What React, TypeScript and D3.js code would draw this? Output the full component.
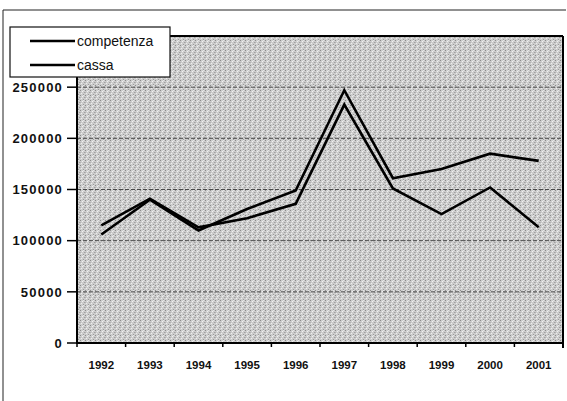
import React from "react";
import * as d3 from "d3";

const years = ["1992", "1993", "1994", "1995", "1996", "1997", "1998", "1999", "2000", "2001"];
const competenza = [106000, 140000, 110000, 131000, 149000, 247000, 161000, 170000, 185000, 178000];
const cassa = [115000, 141000, 113000, 122000, 136000, 233000, 151000, 126000, 152000, 113000];
const yTicks = [0, 50000, 100000, 150000, 200000, 250000];
const seriesNames = ["competenza", "cassa"];

const W = 567;
const H = 401;
const plot = { left: 77, right: 563, top: 36, bottom: 343 };

export default function App() {
  const x = d3.scaleBand<string>().domain(years).range([plot.left, plot.right]).padding(0);
  const y = d3.scaleLinear().domain([0, 300000]).range([plot.bottom, plot.top]);
  const cx = (d: string) => (x(d) as number) + x.bandwidth() / 2;
  const line = d3
    .line<number>()
    .x((_, i) => cx(years[i]))
    .y((v) => y(v));
  const font = "'Liberation Sans', Arial, sans-serif";
  const series = [competenza, cassa];

  return (
    <svg width={W} height={H} style={{ position: "absolute", left: 0, top: 0, background: "#fff" }}>
      <defs>
        <pattern id="stip" width={5} height={5} patternUnits="userSpaceOnUse">
          <rect width={5} height={5} fill="#cdcdcd" />
          <rect x={0} y={0} width={1} height={1} fill="#8c8c8c" />
          <rect x={2} y={1} width={1} height={1} fill="#f2f2f2" />
          <rect x={4} y={2} width={1} height={1} fill="#a0a0a0" />
          <rect x={1} y={3} width={1} height={1} fill="#eeeeee" />
          <rect x={3} y={4} width={1} height={1} fill="#9a9a9a" />
          <rect x={3} y={0} width={1} height={1} fill="#e6e6e6" />
          <rect x={0} y={2} width={1} height={1} fill="#b4b4b4" />
        </pattern>
      </defs>
      {/* outer chart border */}
      <line x1={3} y1={10} x2={566} y2={10} stroke="#222" strokeWidth={1} />
      <line x1={3} y1={10} x2={3} y2={401} stroke="#222" strokeWidth={1} />

      {/* plot area */}
      <rect
        x={plot.left}
        y={plot.top}
        width={plot.right - plot.left}
        height={plot.bottom - plot.top}
        fill="url(#stip)"
      />
      {/* gridlines */}
      {yTicks.filter((t) => t > 0).map((t) => (
        <line
          key={t}
          x1={plot.left}
          x2={plot.right}
          y1={y(t)}
          y2={y(t)}
          stroke="#4a4a4a"
          strokeWidth={1}
          strokeDasharray="4,2"
        />
      ))}
      {/* borders */}
      <line x1={plot.left} x2={plot.right} y1={plot.top} y2={plot.top} stroke="#000" strokeWidth={2} />
      <line x1={plot.right} x2={plot.right} y1={plot.top} y2={plot.bottom + 5} stroke="#000" strokeWidth={2} />
      <line x1={plot.left} x2={plot.left} y1={plot.top} y2={plot.bottom} stroke="#000" strokeWidth={2} />
      <line x1={plot.left - 1} x2={plot.right + 1} y1={plot.bottom} y2={plot.bottom} stroke="#000" strokeWidth={2} />

      {/* y ticks */}
      {yTicks.map((t) => (
        <g key={t}>
          <line x1={plot.left - 10} x2={plot.left} y1={y(t)} y2={y(t)} stroke="#000" strokeWidth={1.5} />
          <text
            x={plot.left - 14}
            y={y(t)}
            dy="0.36em"
            textAnchor="end"
            fontFamily={font}
            fontWeight="bold"
            fontSize={13}
            letterSpacing={1.2}
            fill="#111"
          >
            {t}
          </text>
        </g>
      ))}
      {/* x ticks */}
      {years.map((yr) => (
        <line
          key={"t" + yr}
          x1={x(yr) as number}
          x2={x(yr) as number}
          y1={plot.bottom}
          y2={plot.bottom + 4}
          stroke="#000"
          strokeWidth={1.5}
        />
      ))}
      {years.map((yr) => (
        <text
          key={yr}
          x={cx(yr)}
          y={369}
          textAnchor="middle"
          fontFamily={font}
          fontWeight="bold"
          fontSize={11.5}
          fill="#111"
        >
          {yr}
        </text>
      ))}

      {/* series lines */}
      {series.map((s, i) => (
        <path key={i} d={line(s) || ""} fill="none" stroke="#000" strokeWidth={2.6} strokeLinejoin="miter" />
      ))}

      {/* legend */}
      <rect x={10} y={27} width={160} height={50} fill="#fff" stroke="#111" strokeWidth={1.2} />
      {seriesNames.map((name, i) => (
        <g key={name}>
          <line x1={30} x2={75} y1={41 + i * 24} y2={41 + i * 24} stroke="#000" strokeWidth={2.6} />
          <text x={77} y={41 + i * 24} dy="0.35em" fontFamily={font} fontSize={14} fill="#111">
            {name}
          </text>
        </g>
      ))}
    </svg>
  );
}
